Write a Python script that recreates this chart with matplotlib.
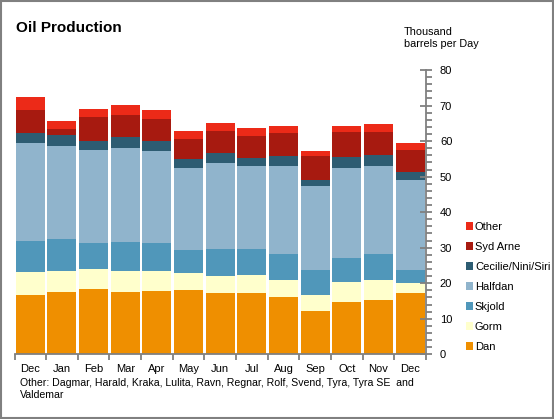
import matplotlib
matplotlib.use("Agg")
import matplotlib.pyplot as plt
from matplotlib.patches import Rectangle, Patch
from matplotlib.ticker import MultipleLocator, FixedLocator

plt.rcParams['font.family'] = ['Liberation Sans', 'DejaVu Sans']

# Data (thousand barrels per day)
months = ["Dec", "Jan", "Feb", "Mar", "Apr", "May", "Jun", "Jul", "Aug", "Sep", "Oct", "Nov", "Dec"]
dan = [16.8, 17.5, 18.4, 17.5, 17.8, 18.1, 17.3, 17.3, 16.1, 12.2, 14.7, 15.3, 17.3]
gorm = [6.3, 6.0, 5.6, 6.0, 5.7, 4.8, 4.8, 5.0, 4.8, 4.5, 5.7, 5.6, 2.8]
skjold = [8.8, 9.0, 7.4, 8.1, 7.9, 6.5, 7.6, 7.4, 7.4, 7.0, 6.7, 7.4, 3.6]
halfdan = [27.6, 26.2, 26.1, 26.5, 25.9, 23.1, 24.2, 23.3, 24.7, 23.7, 25.4, 24.7, 25.4]
cecilie = [2.8, 2.9, 2.6, 3.1, 2.8, 2.5, 2.8, 2.3, 2.9, 1.7, 3.1, 3.2, 2.2]
syd_arne = [6.5, 1.9, 6.7, 6.2, 6.2, 5.6, 6.2, 6.2, 6.4, 6.8, 7.0, 6.4, 6.2]
other = [3.7, 2.2, 2.3, 2.8, 2.5, 2.3, 2.3, 2.2, 2.0, 1.4, 1.7, 2.3, 2.0]

series = [("Dan", dan, "#EF8F00"),
          ("Gorm", gorm, "#FFFFCC"),
          ("Skjold", skjold, "#5097BA"),
          ("Halfdan", halfdan, "#90B4CC"),
          ("Cecilie/Nini/Siri", cecilie, "#2D5C72"),
          ("Syd Arne", syd_arne, "#A71A10"),
          ("Other", other, "#EC2A18")]

W, H = 554, 419
fig = plt.figure(figsize=(W / 100, H / 100), dpi=100)
ax = fig.add_axes([14.5 / W, 1 - 354.3 / H, 411.5 / W, 284.3 / H])

x = list(range(len(months)))
bottom = [0.0] * len(months)
for name, vals, col in series:
    ax.bar(x, vals, width=0.915, bottom=bottom, color=col, linewidth=0)
    bottom = [b + v for b, v in zip(bottom, vals)]

gray = "#808080"
ax.set_xlim(-0.5, len(months) - 0.5)
ax.set_ylim(0, 80)
for s in ["top", "left"]:
    ax.spines[s].set_visible(False)
for s in ["right", "bottom"]:
    ax.spines[s].set_color(gray)
    ax.spines[s].set_linewidth(1.3)

ax.yaxis.tick_right()
ax.yaxis.set_major_locator(MultipleLocator(10))
ax.yaxis.set_minor_locator(MultipleLocator(2))
ax.tick_params(axis="y", which="major", direction="inout", length=8, width=1.3,
               color=gray, labelsize=8, pad=6)
ax.tick_params(axis="y", which="minor", direction="out", length=4, width=1.3, color=gray)

ax.set_xticks(x)
ax.set_xticklabels(months)
ax.xaxis.set_minor_locator(FixedLocator([i - 0.5 for i in range(len(months) + 1)]))
ax.tick_params(axis="x", which="major", length=0, labelsize=8, pad=7)
ax.tick_params(axis="x", which="minor", direction="out", length=4, width=1.3, color=gray)

handles = [Patch(facecolor=col, edgecolor="none", label=name) for name, vals, col in series[::-1]]
fig.legend(handles=handles, loc="upper left", bbox_to_anchor=(466 / W, 1 - 222 / H),
           frameon=False, fontsize=8, handlelength=0.65, handleheight=0.65,
           handletextpad=0.15, labelspacing=0.9, borderaxespad=0, borderpad=0)

fig.text(16 / W, 1 - 21 / H, "Oil Production", fontsize=11, fontweight="bold", va="top")
fig.text(404 / W, 1 - 27 / H, "Thousand\nbarrels per Day", fontsize=7.8, va="top", linespacing=1.25)
fig.text(20 / W, 1 - 378 / H,
         "Other: Dagmar, Harald, Kraka, Lulita, Ravn, Regnar, Rolf, Svend, Tyra, Tyra SE  and\nValdemar",
         fontsize=7.6, va="top", linespacing=1.2)

fig.patches.append(Rectangle((0.5 / W, 1.5 / H), (W - 2) / W, (H - 3) / H, transform=fig.transFigure,
                             fill=False, edgecolor=gray, linewidth=1.5))

fig.savefig("out.png", dpi=100)
